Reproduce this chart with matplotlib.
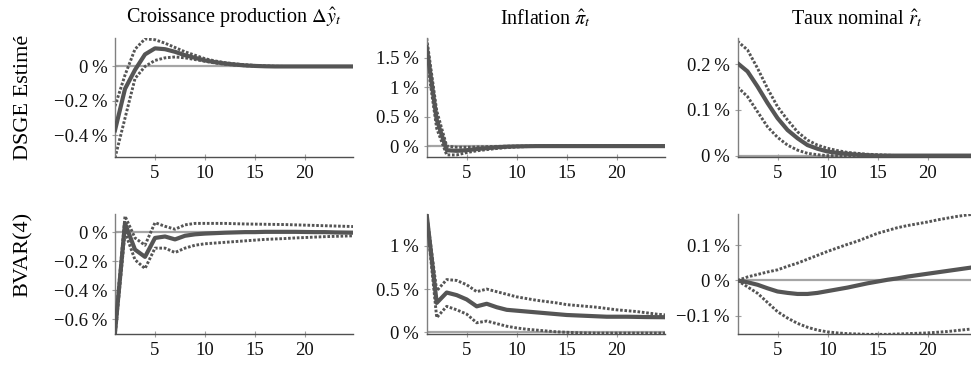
import matplotlib as mpl

mpl.use("Agg")

import matplotlib.pyplot as plt
from matplotlib.ticker import FuncFormatter

# horizons (quarters)
horizons = list(range(1, 26))

# DSGE estimated -- output growth
dsge_y_mid = [-0.37, -0.13, -0.02, 0.07, 0.105, 0.10, 0.085, 0.065, 0.05, 0.035, 0.025, 0.017,
              0.011, 0.006, 0.003, 0.001, 0, 0, 0, 0, 0, 0, 0, 0, 0]
dsge_y_up = [-0.23, -0.05, 0.10, 0.16, 0.155, 0.135, 0.11, 0.085, 0.065, 0.045, 0.032, 0.022,
             0.015, 0.01, 0.006, 0.003, 0.001, 0, 0, 0, 0, 0, 0, 0, 0]
dsge_y_lo = [-0.53, -0.30, -0.07, 0.0, 0.035, 0.05, 0.055, 0.05, 0.04, 0.03, 0.02, 0.013,
             0.008, 0.004, 0.002, 0.001, 0, 0, 0, 0, 0, 0, 0, 0, 0]

# DSGE estimated -- inflation
dsge_pi_mid = [1.68, 0.45, -0.07, -0.08, -0.07, -0.05, -0.035, -0.02, -0.01, -0.005, -0.002, 0,
               0, 0, 0, 0, 0, 0, 0, 0, 0, 0, 0, 0, 0]
dsge_pi_up = [1.83, 0.60, 0.0, -0.02, -0.02, -0.015, -0.01, -0.005, -0.002, 0, 0, 0,
              0, 0, 0, 0, 0, 0, 0, 0, 0, 0, 0, 0, 0]
dsge_pi_lo = [1.50, 0.30, -0.15, -0.15, -0.11, -0.08, -0.06, -0.04, -0.025, -0.015, -0.008, -0.004,
              -0.002, 0, 0, 0, 0, 0, 0, 0, 0, 0, 0, 0, 0]

# DSGE estimated -- nominal rate
dsge_r_mid = [0.202, 0.184, 0.151, 0.115, 0.082, 0.056, 0.038, 0.023, 0.015, 0.009, 0.006, 0.004,
              0.002, 0.001, 0, 0, 0, 0, 0, 0, 0, 0, 0, 0, 0]
dsge_r_up = [0.25, 0.231, 0.191, 0.147, 0.107, 0.078, 0.052, 0.034, 0.023, 0.016, 0.011, 0.007,
             0.005, 0.003, 0.002, 0.001, 0, 0, 0, 0, 0, 0, 0, 0, 0]
dsge_r_lo = [0.15, 0.129, 0.096, 0.063, 0.04, 0.023, 0.012, 0.005, 0.002, 0, 0, 0,
             0, 0, 0, 0, 0, 0, 0, 0, 0, 0, 0, 0, 0]

# BVAR(4) -- output growth
bvar_y_mid = [-0.69, 0.06, -0.12, -0.17, -0.04, -0.03, -0.05, -0.025, -0.015, -0.01, -0.007, -0.004,
              -0.002, 0.0, 0.0, 0.002, 0.002, 0.002, 0.002, 0.001, 0.0, 0.0, -0.002, -0.003, -0.004]
bvar_y_up = [-0.66, 0.11, -0.04, -0.09, 0.065, 0.04, 0.02, 0.05, 0.06, 0.06, 0.06, 0.06,
             0.058, 0.056, 0.055, 0.054, 0.053, 0.052, 0.05, 0.048, 0.046, 0.044, 0.042, 0.04, 0.038]
bvar_y_lo = [-0.72, 0.0, -0.19, -0.25, -0.11, -0.11, -0.14, -0.11, -0.09, -0.08, -0.075, -0.07,
             -0.065, -0.06, -0.055, -0.05, -0.047, -0.044, -0.04, -0.037, -0.034, -0.031, -0.029, -0.027, -0.025]

# BVAR(4) -- inflation
bvar_pi_mid = [1.36, 0.34, 0.46, 0.43, 0.38, 0.30, 0.33, 0.29, 0.26, 0.25, 0.24, 0.23,
               0.22, 0.21, 0.20, 0.195, 0.19, 0.185, 0.18, 0.18, 0.18, 0.178, 0.176, 0.175, 0.174]
bvar_pi_up = [1.37, 0.48, 0.61, 0.60, 0.55, 0.47, 0.50, 0.47, 0.44, 0.41, 0.39, 0.37,
              0.355, 0.34, 0.32, 0.31, 0.30, 0.29, 0.275, 0.26, 0.25, 0.24, 0.225, 0.21, 0.20]
bvar_pi_lo = [1.32, 0.17, 0.30, 0.26, 0.21, 0.11, 0.13, 0.10, 0.07, 0.05, 0.035, 0.025,
              0.015, 0.005, 0.0, -0.005, -0.008, -0.01, -0.01, -0.01, -0.01, -0.01, -0.01, -0.01, -0.01]

# BVAR(4) -- nominal rate
bvar_r_mid = [0, -0.005, -0.012, -0.022, -0.031, -0.035, -0.038, -0.038, -0.035, -0.03, -0.025, -0.02,
              -0.014, -0.008, -0.003, 0.002, 0.006, 0.011, 0.015, 0.019, 0.023, 0.027, 0.031, 0.035, 0.039]
bvar_r_up = [0, 0.01, 0.017, 0.024, 0.03, 0.04, 0.049, 0.06, 0.071, 0.082, 0.092, 0.102,
             0.111, 0.122, 0.133, 0.141, 0.149, 0.155, 0.16, 0.165, 0.171, 0.176, 0.181, 0.185, 0.188]
bvar_r_lo = [0, -0.018, -0.036, -0.062, -0.088, -0.106, -0.121, -0.132, -0.14, -0.145, -0.148, -0.15,
             -0.151, -0.152, -0.152, -0.152, -0.151, -0.15, -0.149, -0.148, -0.146, -0.144, -0.141, -0.138, -0.136]

col_titles = [r"Croissance production $\Delta\hat{y}_t$",
              r"Inflation $\hat{\pi}_t$",
              r"Taux nominal $\hat{r}_t$"]
row_labels = ["DSGE Estimé", "BVAR(4)"]

x_ticks = [5, 10, 15, 20]
y_ticks = [[-0.4, -0.2, 0], [0, 0.5, 1, 1.5], [0, 0.1, 0.2],
           [-0.6, -0.4, -0.2, 0], [0, 0.5, 1], [-0.1, 0, 0.1]]
y_limits = [(-0.525, 0.165), (-0.185, 1.835), (-0.003, 0.257),
            (-0.70, 0.128), (-0.02, 1.375), (-0.151, 0.189)]

series = [
    (dsge_y_mid, dsge_y_up, dsge_y_lo),
    (dsge_pi_mid, dsge_pi_up, dsge_pi_lo),
    (dsge_r_mid, dsge_r_up, dsge_r_lo),
    (bvar_y_mid, bvar_y_up, bvar_y_lo),
    (bvar_pi_mid, bvar_pi_up, bvar_pi_lo),
    (bvar_r_mid, bvar_r_up, bvar_r_lo),
]

plt.rcParams["font.family"] = ["Liberation Serif", "DejaVu Serif"]
plt.rcParams["mathtext.fontset"] = "stix"

DARK = "#555555"
ZERO = "#a5a5a5"


def pct(v, pos):
    s = "%g" % round(v, 3)
    return s.replace("-", "\u2212") + "\u2009%"


W, H = 971, 365
fig = plt.figure(figsize=(W / 100, H / 100), dpi=100)

col_left = [115, 426.7, 737.5]
row_box = [(38, 157), (213.5, 334)]
width_px = 238

for i, (mid, up, lo) in enumerate(series):
    r, c = divmod(i, 3)
    top, bot = row_box[r]
    ax = fig.add_axes([col_left[c] / W, 1 - bot / H, width_px / W, (bot - top) / H])
    ax.axhline(0, color=ZERO, lw=1.6, zorder=1)
    ax.plot(horizons, up, color=DARK, lw=2.1, ls=(0, (0.9, 0.6)), zorder=2)
    ax.plot(horizons, lo, color=DARK, lw=2.1, ls=(0, (0.9, 0.6)), zorder=2)
    ax.plot(horizons, mid, color=DARK, lw=3.0, zorder=3)
    ax.set_xlim(1, 24.8)
    ax.set_ylim(*y_limits[i])
    ax.set_xticks(x_ticks)
    ax.set_yticks(y_ticks[i])
    ax.yaxis.set_major_formatter(FuncFormatter(pct))
    for side in ["top", "right"]:
        ax.spines[side].set_visible(False)
    ax.spines["left"].set_color("#808080")
    ax.spines["bottom"].set_color("#505050")
    ax.spines["left"].set_linewidth(1.0)
    ax.spines["bottom"].set_linewidth(1.0)
    ax.tick_params(direction="inout", length=5, width=0.8, color="#a0a0a0",
                   labelsize=13.5, labelcolor="#111111", pad=3)
    ax.patch.set_alpha(0)
    if r == 0:
        fig.text((col_left[c] + width_px / 2) / W, 1 - 18 / H, col_titles[c],
                 ha="center", va="center", fontsize=14.5)

fig.text(23 / W, 1 - 97 / H, row_labels[0], rotation=90, ha="center", va="center", fontsize=16)
fig.text(23 / W, 1 - 254 / H, row_labels[1], rotation=90, ha="center", va="center", fontsize=16)

fig.savefig("out.png", dpi=100)
